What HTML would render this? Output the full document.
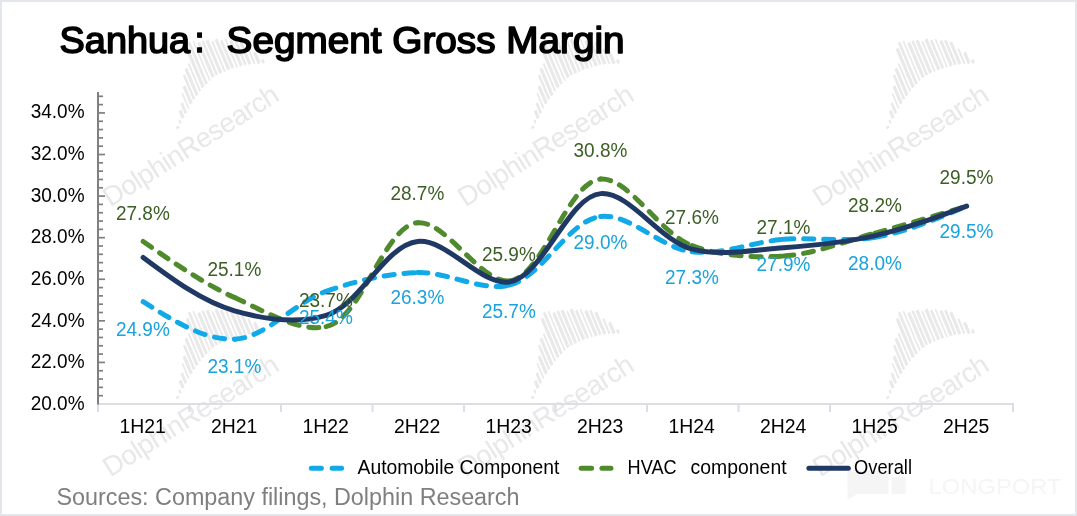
<!DOCTYPE html>
<html><head><meta charset="utf-8"><title>Sanhua: Segment Gross Margin</title>
<style>
html,body{margin:0;padding:0;background:#fff;}
body{width:1077px;height:516px;overflow:hidden;position:relative;font-family:"Liberation Sans",sans-serif;}
svg{position:absolute;left:0;top:0;display:block;will-change:transform;}
text{font-family:"Liberation Sans",sans-serif;}
</style></head><body>
<svg width="1077" height="516" viewBox="0 0 1077 516">
<rect x="0" y="0" width="1077" height="516" fill="#ffffff"/>
<defs><g id="wm">
<g fill="#e9e9e9" transform="skewX(-9.5)"><rect x="92.9" y="-32.9" width="3.2" height="2.5"/><rect x="97.9" y="-37.2" width="2.0" height="3.7"/><rect x="101.7" y="-44.6" width="3.3" height="8.0"/><rect x="106.3" y="-50.1" width="2.8" height="10.8"/><rect x="111.3" y="-58.1" width="1.7" height="16.3"/><rect x="114.9" y="-63.3" width="3.3" height="18.9"/><rect x="119.6" y="-72.5" width="2.6" height="25.8"/><rect x="123.7" y="-77.3" width="3.2" height="28.9"/><rect x="128.7" y="-79.9" width="2.0" height="29.7"/><rect x="132.5" y="-93.2" width="3.3" height="41.3"/><rect x="137.1" y="-97.6" width="2.8" height="44.7"/><rect x="142.1" y="-96.4" width="1.7" height="42.5"/><rect x="145.7" y="-92.2" width="3.3" height="37.3"/><rect x="150.4" y="-91.5" width="2.6" height="36.4"/><rect x="154.5" y="-89.8" width="3.2" height="35.3"/><rect x="159.5" y="-86.1" width="2.0" height="32.3"/><rect x="163.3" y="-85.9" width="3.3" height="32.8"/><rect x="167.9" y="-82.2" width="2.8" height="30.1"/><rect x="172.9" y="-81.0" width="1.7" height="30.2"/><rect x="176.5" y="-76.8" width="3.3" height="27.2"/><rect x="181.2" y="-74.6" width="2.6" height="26.2"/><rect x="185.3" y="-70.1" width="3.2" height="23.6"/><rect x="190.3" y="-60.6" width="2.0" height="16.3"/><rect x="194.1" y="-54.1" width="3.3" height="12.0"/><rect x="198.7" y="-43.9" width="2.8" height="4.0"/></g>
<text x="0" y="0" font-size="27.5" fill="#e8e8e8" textLength="202" lengthAdjust="spacing">DolphinResearch</text>
</g></defs>
<use href="#wm" transform="translate(110.3,207.5) rotate(-32.3)"/>
<use href="#wm" transform="translate(465.3,207.5) rotate(-32.3)"/>
<use href="#wm" transform="translate(820.3,207.5) rotate(-32.3)"/>
<use href="#wm" transform="translate(110.3,477.5) rotate(-32.3)"/>
<use href="#wm" transform="translate(465.3,477.5) rotate(-32.3)"/>
<use href="#wm" transform="translate(820.3,477.5) rotate(-32.3)"/>
<g fill="#f5f5f5"><path d="M847.5,470.5 H888.5 V494 H857 L847.5,500 Z"/><rect x="891.5" y="477" width="14.2" height="17"/>
<text x="928.6" y="494" font-size="22.5" textLength="133" lengthAdjust="spacingAndGlyphs">LONGPORT</text></g>
<rect x="1" y="1" width="1075" height="514" fill="none" stroke="#e3e7ec" stroke-width="2"/>
<g font-size="37.3" fill="#000" stroke="#000" stroke-width="1.6" stroke-linejoin="round">
<text x="59.6" y="52.6" textLength="130.5" lengthAdjust="spacingAndGlyphs">Sanhua</text>
<rect x="197.6" y="32.9" width="3.9" height="4.4" stroke-width="1" stroke-linejoin="miter"/><rect x="197.6" y="47.8" width="3.9" height="4.4" stroke-width="1" stroke-linejoin="miter"/>
<text x="226.6" y="52.6" textLength="398" lengthAdjust="spacingAndGlyphs">Segment Gross Margin</text>
</g>
<g stroke="#dcdde5" stroke-width="2" fill="none">
<line x1="97.0" y1="404" x2="1014.0" y2="404"/>
<line x1="98.00" y1="404" x2="98.00" y2="412"/>
<line x1="189.50" y1="404" x2="189.50" y2="412"/>
<line x1="281.00" y1="404" x2="281.00" y2="412"/>
<line x1="372.50" y1="404" x2="372.50" y2="412"/>
<line x1="464.00" y1="404" x2="464.00" y2="412"/>
<line x1="555.50" y1="404" x2="555.50" y2="412"/>
<line x1="647.00" y1="404" x2="647.00" y2="412"/>
<line x1="738.50" y1="404" x2="738.50" y2="412"/>
<line x1="830.00" y1="404" x2="830.00" y2="412"/>
<line x1="921.50" y1="404" x2="921.50" y2="412"/>
<line x1="1013.00" y1="404" x2="1013.00" y2="412"/>
</g>
<g stroke="#7f7f7f" fill="none">
<line x1="98" y1="92" x2="98" y2="404.5" stroke-width="2"/>
<line x1="98" y1="395.68" x2="103.0" y2="395.68" stroke-width="1.7"/>
<line x1="98" y1="387.37" x2="103.0" y2="387.37" stroke-width="1.7"/>
<line x1="98" y1="379.05" x2="103.0" y2="379.05" stroke-width="1.7"/>
<line x1="98" y1="370.74" x2="103.0" y2="370.74" stroke-width="1.7"/>
<line x1="98" y1="362.42" x2="105.0" y2="362.42" stroke-width="1.7"/>
<line x1="98" y1="354.10" x2="103.0" y2="354.10" stroke-width="1.7"/>
<line x1="98" y1="345.79" x2="103.0" y2="345.79" stroke-width="1.7"/>
<line x1="98" y1="337.47" x2="103.0" y2="337.47" stroke-width="1.7"/>
<line x1="98" y1="329.16" x2="103.0" y2="329.16" stroke-width="1.7"/>
<line x1="98" y1="320.84" x2="105.0" y2="320.84" stroke-width="1.7"/>
<line x1="98" y1="312.52" x2="103.0" y2="312.52" stroke-width="1.7"/>
<line x1="98" y1="304.21" x2="103.0" y2="304.21" stroke-width="1.7"/>
<line x1="98" y1="295.89" x2="103.0" y2="295.89" stroke-width="1.7"/>
<line x1="98" y1="287.58" x2="103.0" y2="287.58" stroke-width="1.7"/>
<line x1="98" y1="279.26" x2="105.0" y2="279.26" stroke-width="1.7"/>
<line x1="98" y1="270.94" x2="103.0" y2="270.94" stroke-width="1.7"/>
<line x1="98" y1="262.63" x2="103.0" y2="262.63" stroke-width="1.7"/>
<line x1="98" y1="254.31" x2="103.0" y2="254.31" stroke-width="1.7"/>
<line x1="98" y1="246.00" x2="103.0" y2="246.00" stroke-width="1.7"/>
<line x1="98" y1="237.68" x2="105.0" y2="237.68" stroke-width="1.7"/>
<line x1="98" y1="229.36" x2="103.0" y2="229.36" stroke-width="1.7"/>
<line x1="98" y1="221.05" x2="103.0" y2="221.05" stroke-width="1.7"/>
<line x1="98" y1="212.73" x2="103.0" y2="212.73" stroke-width="1.7"/>
<line x1="98" y1="204.42" x2="103.0" y2="204.42" stroke-width="1.7"/>
<line x1="98" y1="196.10" x2="105.0" y2="196.10" stroke-width="1.7"/>
<line x1="98" y1="187.78" x2="103.0" y2="187.78" stroke-width="1.7"/>
<line x1="98" y1="179.47" x2="103.0" y2="179.47" stroke-width="1.7"/>
<line x1="98" y1="171.15" x2="103.0" y2="171.15" stroke-width="1.7"/>
<line x1="98" y1="162.84" x2="103.0" y2="162.84" stroke-width="1.7"/>
<line x1="98" y1="154.52" x2="105.0" y2="154.52" stroke-width="1.7"/>
<line x1="98" y1="146.20" x2="103.0" y2="146.20" stroke-width="1.7"/>
<line x1="98" y1="137.89" x2="103.0" y2="137.89" stroke-width="1.7"/>
<line x1="98" y1="129.57" x2="103.0" y2="129.57" stroke-width="1.7"/>
<line x1="98" y1="121.26" x2="103.0" y2="121.26" stroke-width="1.7"/>
<line x1="98" y1="112.94" x2="105.0" y2="112.94" stroke-width="1.7"/>
<line x1="98" y1="104.62" x2="103.0" y2="104.62" stroke-width="1.7"/>
<line x1="98" y1="96.31" x2="103.0" y2="96.31" stroke-width="1.7"/>
</g>
<g font-size="19.6" fill="#000" text-anchor="end">
<text x="84.6" y="118.1" textLength="53.9" lengthAdjust="spacingAndGlyphs">34.0%</text>
<text x="84.6" y="159.8" textLength="53.9" lengthAdjust="spacingAndGlyphs">32.0%</text>
<text x="84.6" y="201.5" textLength="53.9" lengthAdjust="spacingAndGlyphs">30.0%</text>
<text x="84.6" y="243.2" textLength="53.9" lengthAdjust="spacingAndGlyphs">28.0%</text>
<text x="84.6" y="284.9" textLength="53.9" lengthAdjust="spacingAndGlyphs">26.0%</text>
<text x="84.6" y="326.6" textLength="53.9" lengthAdjust="spacingAndGlyphs">24.0%</text>
<text x="84.6" y="368.4" textLength="53.9" lengthAdjust="spacingAndGlyphs">22.0%</text>
<text x="84.6" y="410.1" textLength="53.9" lengthAdjust="spacingAndGlyphs">20.0%</text>
</g>
<g font-size="19.6" fill="#000" text-anchor="middle">
<text x="142.7" y="432.9" textLength="46.4" lengthAdjust="spacingAndGlyphs">1H21</text>
<text x="234.2" y="432.9" textLength="46.4" lengthAdjust="spacingAndGlyphs">2H21</text>
<text x="325.6" y="432.9" textLength="46.4" lengthAdjust="spacingAndGlyphs">1H22</text>
<text x="417.1" y="432.9" textLength="46.4" lengthAdjust="spacingAndGlyphs">2H22</text>
<text x="508.6" y="432.9" textLength="46.4" lengthAdjust="spacingAndGlyphs">1H23</text>
<text x="600.1" y="432.9" textLength="46.4" lengthAdjust="spacingAndGlyphs">2H23</text>
<text x="691.6" y="432.9" textLength="46.4" lengthAdjust="spacingAndGlyphs">1H24</text>
<text x="783.1" y="432.9" textLength="46.4" lengthAdjust="spacingAndGlyphs">2H24</text>
<text x="874.6" y="432.9" textLength="46.4" lengthAdjust="spacingAndGlyphs">1H25</text>
<text x="966.1" y="432.9" textLength="46.4" lengthAdjust="spacingAndGlyphs">2H25</text>
</g>
<g fill="none" stroke-linecap="round" stroke-linejoin="round" stroke-width="5">
<g stroke="#12a9e8" stroke-dasharray="10.2 9.8">
<path d="M143.15,301.73 C173.89,321.07 204.63,340.40 234.65,339.15"/>
<path d="M234.65,339.15 C265.66,337.86 294.41,302.49 326.15,291.33"/>
<path d="M326.15,291.33 C355.59,280.98 387.02,273.62 417.65,272.62"/>
<path d="M417.65,272.62 C448.02,271.63 480.73,291.81 509.15,285.10"/>
<path d="M509.15,285.10 C542.52,277.21 568.18,220.28 600.65,216.49"/>
<path d="M600.65,216.49 C629.59,213.11 660.93,248.30 692.15,251.83"/>
<path d="M692.15,251.83 C721.99,255.21 753.05,241.78 783.65,239.36"/>
<path d="M783.65,239.36 C814.05,236.95 845.25,242.52 875.15,237.28"/>
<path d="M875.15,237.28 C906.30,231.82 936.48,218.96 966.65,206.09"/>
</g>
<g stroke="#4f8a2d" stroke-dasharray="10.2 9.8">
<path d="M143.15,241.44 C172.96,262.27 202.76,283.11 234.65,297.57"/>
<path d="M234.65,297.57 C263.98,310.87 298.81,332.53 326.15,326.68"/>
<path d="M326.15,326.68 C362.13,318.97 383.80,225.75 417.65,222.73"/>
<path d="M417.65,222.73 C445.83,220.21 480.88,283.40 509.15,280.94"/>
<path d="M509.15,280.94 C542.82,278.01 567.63,181.12 600.65,179.07"/>
<path d="M600.65,179.07 C629.26,177.29 658.91,233.18 692.15,245.60"/>
<path d="M692.15,245.60 C720.64,256.23 753.42,257.95 783.65,255.99"/>
<path d="M783.65,255.99 C814.43,253.99 844.78,241.40 875.15,233.12"/>
<path d="M875.15,233.12 C905.78,224.78 936.22,215.44 966.65,206.09"/>
</g>
<path d="M143.15,257.45 C172.72,279.50 202.30,301.56 234.65,310.88 C263.66,319.23 298.02,323.88 326.15,315.45 C360.10,305.28 385.06,244.93 417.65,241.44 C446.51,238.34 480.93,285.81 509.15,281.98 C542.92,277.39 567.90,196.18 600.65,193.62 C629.42,191.37 659.64,240.71 692.15,249.13 C721.06,256.62 753.25,249.91 783.65,247.68 C814.25,245.43 845.10,242.36 875.15,235.62 C906.13,228.67 936.39,217.38 966.65,206.09" stroke="#1f3864"/>
</g>
<g font-size="19.6" text-anchor="middle">
<text x="142.9" y="220.0" fill="#3b5f25" textLength="53.9" lengthAdjust="spacingAndGlyphs">27.8%</text>
<text x="234.4" y="275.5" fill="#3b5f25" textLength="53.9" lengthAdjust="spacingAndGlyphs">25.1%</text>
<text x="325.9" y="307.0" fill="#3b5f25" textLength="53.9" lengthAdjust="spacingAndGlyphs">23.7%</text>
<text x="417.4" y="200.0" fill="#3b5f25" textLength="53.9" lengthAdjust="spacingAndGlyphs">28.7%</text>
<text x="508.9" y="260.6" fill="#3b5f25" textLength="53.9" lengthAdjust="spacingAndGlyphs">25.9%</text>
<text x="600.5" y="157.0" fill="#3b5f25" textLength="53.9" lengthAdjust="spacingAndGlyphs">30.8%</text>
<text x="692.0" y="224.4" fill="#3b5f25" textLength="53.9" lengthAdjust="spacingAndGlyphs">27.6%</text>
<text x="783.5" y="233.5" fill="#3b5f25" textLength="53.9" lengthAdjust="spacingAndGlyphs">27.1%</text>
<text x="875.0" y="211.8" fill="#3b5f25" textLength="53.9" lengthAdjust="spacingAndGlyphs">28.2%</text>
<text x="966.5" y="184.1" fill="#3b5f25" textLength="53.9" lengthAdjust="spacingAndGlyphs">29.5%</text>
</g>
<g font-size="19.6" text-anchor="middle">
<text x="142.9" y="335.7" fill="#1aa3dc" textLength="53.9" lengthAdjust="spacingAndGlyphs">24.9%</text>
<text x="234.4" y="373.0" fill="#1aa3dc" textLength="53.9" lengthAdjust="spacingAndGlyphs">23.1%</text>
<text x="325.9" y="324.0" fill="#1aa3dc" textLength="53.9" lengthAdjust="spacingAndGlyphs">25.4%</text>
<text x="417.4" y="304.4" fill="#1aa3dc" textLength="53.9" lengthAdjust="spacingAndGlyphs">26.3%</text>
<text x="508.9" y="317.5" fill="#1aa3dc" textLength="53.9" lengthAdjust="spacingAndGlyphs">25.7%</text>
<text x="600.5" y="248.6" fill="#1aa3dc" textLength="53.9" lengthAdjust="spacingAndGlyphs">29.0%</text>
<text x="692.0" y="283.9" fill="#1aa3dc" textLength="53.9" lengthAdjust="spacingAndGlyphs">27.3%</text>
<text x="783.5" y="271.3" fill="#1aa3dc" textLength="53.9" lengthAdjust="spacingAndGlyphs">27.9%</text>
<text x="875.0" y="269.8" fill="#1aa3dc" textLength="53.9" lengthAdjust="spacingAndGlyphs">28.0%</text>
<text x="966.5" y="237.5" fill="#1aa3dc" textLength="53.9" lengthAdjust="spacingAndGlyphs">29.5%</text>
</g>
<g fill="none" stroke-linecap="round" stroke-width="5">
<path d="M311.3,468.2 H321.4 M332.1,468.2 H341.6" stroke="#12a9e8"/>
<path d="M581.1,468.2 H591.6 M601.9,468.2 H611" stroke="#4f8a2d"/>
<path d="M808.9,468.2 H848.3" stroke="#1f3864"/>
</g>
<g font-size="19.3" fill="#000">
<text x="357.5" y="473.8" textLength="202" lengthAdjust="spacingAndGlyphs">Automobile Component</text>
<text x="627.6" y="473.8" textLength="49" lengthAdjust="spacingAndGlyphs">HVAC</text>
<text x="690.6" y="473.8" textLength="96" lengthAdjust="spacingAndGlyphs">component</text>
<text x="854" y="473.8" textLength="58" lengthAdjust="spacingAndGlyphs">Overall</text>
</g>
<text x="56.5" y="504.8" font-size="23.5" fill="#7f7f7f" textLength="463" lengthAdjust="spacingAndGlyphs">Sources: Company filings, Dolphin Research</text>
</svg>
</body></html>
